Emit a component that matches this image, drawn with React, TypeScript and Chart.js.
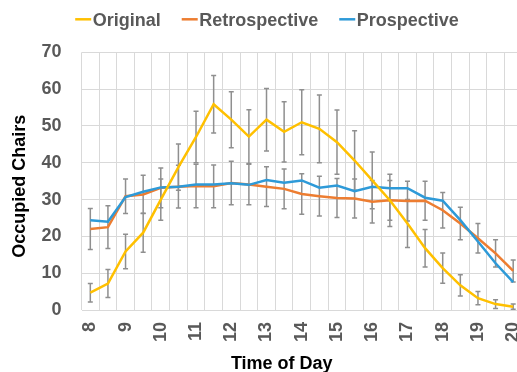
import React, { useEffect, useRef } from 'react';
import { Chart, registerables } from 'chart.js';

Chart.register(...registerables);

const timeOfDay = [8, 8.5, 9, 9.5, 10, 10.5, 11, 11.5, 12, 12.5, 13, 13.5, 14, 14.5, 15, 15.5, 16, 16.5, 17, 17.5, 18, 18.5, 19, 19.5, 20];

const original = [4.7, 7.2, 15.9, 21.0, 30.0, 38.8, 47.0, 55.9, 51.7, 47.1, 51.7, 48.4, 51.0, 49.2, 45.6, 40.6, 35.2, 29.8, 23.5, 16.8, 11.4, 6.7, 3.2, 1.6, 0.9];
const originalErr = [2.5, 3.8, 4.7, 5.3, 5.6, 6.3, 7.0, 7.8, 7.6, 7.3, 8.5, 8.2, 8.8, 9.2, 8.7, 8.1, 7.7, 7.1, 6.5, 5.1, 4.1, 2.9, 1.8, 1.2, 0.7];

const retrospective = [22.0, 22.5, 30.9, 31.4, 33.2, 33.5, 33.7, 33.6, 34.5, 34.1, 33.5, 32.9, 31.5, 30.9, 30.4, 30.3, 29.4, 29.8, 29.6, 29.7, 27.1, 23.5, 19.5, 15.4, 10.6];
const retrospectiveErr = [5.6, 5.8, 4.7, 5.2, 5.4, 5.8, 5.9, 5.8, 5.9, 5.5, 5.4, 5.4, 5.5, 5.4, 5.3, 5.3, 5.8, 5.4, 5.4, 5.3, 4.8, 4.4, 4.0, 3.7, 3.0];

const prospective = [24.4, 24.0, 30.7, 32.1, 33.3, 33.5, 34.1, 34.1, 34.4, 34.0, 35.3, 34.6, 35.2, 33.2, 33.8, 32.3, 33.5, 33.1, 33.1, 30.5, 29.7, 24.4, 18.6, 12.7, 7.6];

const yTicks = [0, 10, 20, 30, 40, 50, 60, 70];

const FONT = '"Liberation Sans", Arial, sans-serif';
const NB = '\u00A0';

const errorBarPlugin = {
  id: 'errorBars',
  beforeDatasetsDraw(chart: any) {
    const { ctx } = chart;
    const yScale = chart.scales.y;
    ctx.save();
    ctx.strokeStyle = '#8F8F8F';
    ctx.lineWidth = 1.5;
    chart.data.datasets.forEach((ds: any, di: number) => {
      const errs = ds.errors;
      if (!errs) return;
      const meta = chart.getDatasetMeta(di);
      meta.data.forEach((pt: any, i: number) => {
        const v = ds.data[i];
        const e = errs[i];
        const x = pt.x;
        const top = yScale.getPixelForValue(v + e);
        const bot = yScale.getPixelForValue(Math.max(0, v - e));
        ctx.beginPath();
        ctx.moveTo(x, top);
        ctx.lineTo(x, bot);
        ctx.moveTo(x - 2.5, top);
        ctx.lineTo(x + 2.5, top);
        ctx.moveTo(x - 2.5, bot);
        ctx.lineTo(x + 2.5, bot);
        ctx.stroke();
      });
    });
    ctx.restore();
  },
};

const LEGEND_CENTER_X = 267;
const LEGEND_LINE_Y = 19.3;
const LEGEND_BASELINE_Y = 26;

const legendPlugin = {
  id: 'excelLegend',
  afterDraw(chart: any) {
    const { ctx } = chart;
    ctx.save();
    ctx.font = `bold 18px ${FONT}`;
    const markerW = 16;
    const markerGap = 1.5;
    const itemGap = 21;
    const items = chart.data.datasets.map((ds: any) => ({
      label: ds.label as string,
      color: ds.borderColor as string,
      w: ctx.measureText(ds.label).width,
    }));
    const total =
      items.reduce((s: number, it: any) => s + markerW + markerGap + it.w, 0) + itemGap * (items.length - 1);
    let x = LEGEND_CENTER_X - total / 2;
    ctx.textBaseline = 'alphabetic';
    ctx.textAlign = 'left';
    items.forEach((it: any) => {
      ctx.strokeStyle = it.color;
      ctx.lineWidth = 2.5;
      ctx.beginPath();
      ctx.moveTo(x, LEGEND_LINE_Y);
      ctx.lineTo(x + markerW, LEGEND_LINE_Y);
      ctx.stroke();
      ctx.fillStyle = '#595959';
      ctx.fillText(it.label, x + markerW + markerGap, LEGEND_BASELINE_Y);
      x += markerW + markerGap + it.w + itemGap;
    });
    ctx.restore();
  },
};

export default function App() {
  const canvasRef = useRef<HTMLCanvasElement | null>(null);

  useEffect(() => {
    if (!canvasRef.current) return;
    const chart = new Chart(canvasRef.current, {
      type: 'line',
      data: {
        labels: timeOfDay,
        datasets: [
          {
            label: 'Original',
            data: original,
            errors: originalErr,
            borderColor: '#FFC000',
            backgroundColor: '#FFC000',
            borderWidth: 2.5,
            pointRadius: 0,
            tension: 0,
            order: 0,
          } as any,
          {
            label: 'Retrospective',
            data: retrospective,
            errors: retrospectiveErr,
            borderColor: '#ED7D31',
            backgroundColor: '#ED7D31',
            borderWidth: 2.5,
            pointRadius: 0,
            tension: 0,
            order: 2,
          } as any,
          {
            label: 'Prospective',
            data: prospective,
            borderColor: '#2E9AD8',
            backgroundColor: '#2E9AD8',
            borderWidth: 2.5,
            pointRadius: 0,
            tension: 0,
            order: 1,
          } as any,
        ],
      },
      options: {
        animation: false,
        responsive: false,
        layout: { padding: { left: 0, right: 4, top: 0, bottom: 0 } },
        plugins: {
          legend: { display: false },
          tooltip: { enabled: false },
        },
        scales: {
          x: {
            type: 'category',
            offset: true,
            border: { display: false },
            grid: { offset: true, color: '#D9D9D9', lineWidth: 1, drawTicks: false },
            afterFit: (scale: any) => {
              scale.height = 70;
              scale.paddingLeft = 0;
              scale.paddingRight = 0;
            },
            ticks: {
              autoSkip: false,
              minRotation: 90,
              maxRotation: 90,
              padding: 12,
              color: '#595959',
              font: { family: FONT, size: 18, weight: 'bold' },
              callback: (_v: any, i: number) => (Number.isInteger(timeOfDay[i]) ? String(timeOfDay[i]) : ''),
            },
            title: {
              display: true,
              text: 'Time of Day' + NB.repeat(8),
              color: '#000000',
              font: { family: FONT, size: 18, weight: 'bold' },
              padding: { top: 4, bottom: 5.5 },
            },
          },
          y: {
            min: 0,
            max: 70,
            border: { display: false },
            grid: { color: '#D9D9D9', lineWidth: 1, drawTicks: false },
            afterBuildTicks: (scale: any) => {
              scale.ticks = yTicks.map((v) => ({ value: v }));
            },
            afterFit: (scale: any) => {
              scale.width = 81.5;
              scale.paddingTop = 52.3;
            },
            ticks: {
              padding: 20,
              color: '#595959',
              font: { family: FONT, size: 18, weight: 'bold' },
            },
            title: {
              display: true,
              text: 'Occupied Chairs' + NB.repeat(2),
              color: '#000000',
              font: { family: FONT, size: 18, weight: 'bold' },
              padding: { top: 9.6, bottom: 4 },
            },
          },
        },
      } as any,
      plugins: [errorBarPlugin, legendPlugin],
    });
    return () => chart.destroy();
  }, []);

  return (
    <div style={{ position: 'fixed', left: 0, top: 0, width: 517, height: 372, overflow: 'hidden', background: '#fff' }}>
      <canvas ref={canvasRef} width={526} height={380} style={{ display: 'block' }} />
    </div>
  );
}
